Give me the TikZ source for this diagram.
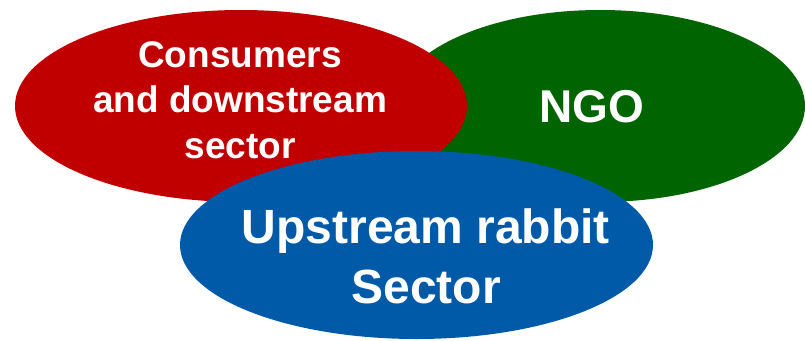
\documentclass[tikz,border=0pt]{standalone}
\usepackage{fontspec}
\setmainfont{Liberation Sans}
\definecolor{cred}{RGB}{192,0,0}
\definecolor{cgreen}{RGB}{0,100,0}
\definecolor{cblue}{RGB}{0,90,168}
\begin{document}
\begin{tikzpicture}[x=1pt,y=-1pt,
  lbl/.style={text=white,font=\bfseries,align=center,inner sep=0pt}]
\useasboundingbox (0,0) rectangle (805,340);
\fill[cgreen] (600,106) ellipse [x radius=205, y radius=96];
\fill[cred] (241,106) ellipse [x radius=226, y radius=96];
\fill[cblue] (416.5,245) ellipse [x radius=236.5, y radius=94];
\node[lbl,font=\bfseries\fontsize{37}{45.5}\selectfont] (cons) at (240,100) {Consumers\\and downstream\\sector};
\node[lbl,font=\bfseries\fontsize{46}{55}\selectfont] (ngo) at (592,106.5) {NGO};
\node[lbl,font=\bfseries\fontsize{48}{60}\selectfont] (up) at (426,256) {Upstream rabbit\\Sector};
\end{tikzpicture}
\end{document}
